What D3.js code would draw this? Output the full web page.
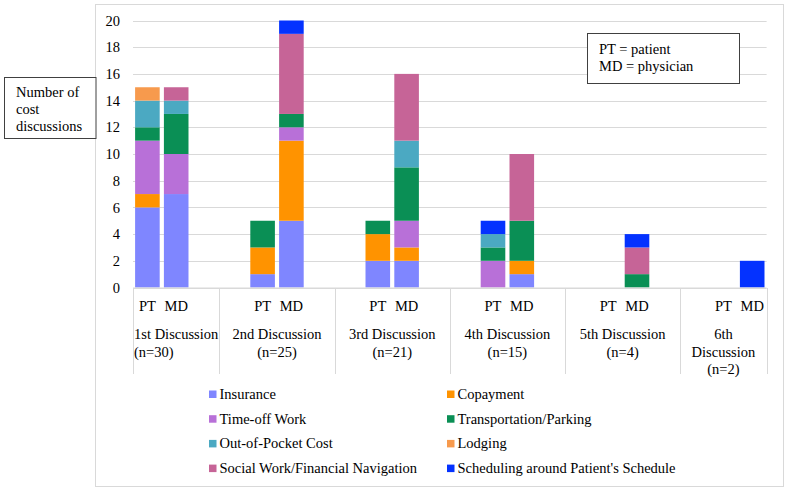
<!DOCTYPE html>
<html>
<head>
<meta charset="utf-8">
<script src="https://cdn.jsdelivr.net/npm/d3@7"></script>
<style>
  html, body { margin: 0; padding: 0; background: #fff; }
  svg { display: block; }
</style>
</head>
<body>
<svg id="chart" width="790" height="491"></svg>
<script>
// ---- data ----
const groupLabels = [
  ["1st Discussion", "(n=30)"],
  ["2nd Discussion", "(n=25)"],
  ["3rd Discussion", "(n=21)"],
  ["4th Discussion", "(n=15)"],
  ["5th Discussion", "(n=4)"],
  ["6th", "Discussion", "(n=2)"]
];
const roles = ["PT", "MD"];
const yTicks = [0, 2, 4, 6, 8, 10, 12, 14, 16, 18, 20];
const seriesNames = [
  "Insurance", "Copayment", "Time-off Work", "Transportation/Parking",
  "Out-of-Pocket Cost", "Lodging", "Social Work/Financial Navigation",
  "Scheduling around Patient's Schedule"
];
const seriesColors = ["#7f86ff", "#ff9300", "#b870d8", "#0a8f55", "#4ba9c2", "#f79a4d", "#c66497", "#0432ff"];
// values per bar: PT1, MD1, PT2, MD2, PT3, MD3, PT4, MD4, PT5, MD5, PT6, MD6
const insurance      = [6, 7, 1, 5, 2, 2, 0, 1, 0, 0, 0, 0];
const copayment      = [1, 0, 2, 6, 2, 1, 0, 1, 0, 0, 0, 0];
const timeOffWork    = [4, 3, 0, 1, 0, 2, 2, 0, 0, 0, 0, 0];
const transportation = [1, 3, 2, 1, 1, 4, 1, 3, 0, 1, 0, 0];
const outOfPocket    = [2, 1, 0, 0, 0, 2, 1, 0, 0, 0, 0, 0];
const lodging        = [1, 0, 0, 0, 0, 0, 0, 0, 0, 0, 0, 0];
const socialWork     = [0, 1, 0, 6, 0, 5, 0, 5, 0, 2, 0, 0];
const scheduling     = [0, 0, 0, 1, 0, 0, 1, 0, 0, 1, 0, 2];
const seriesValues = [insurance, copayment, timeOffWork, transportation, outOfPocket, lodging, socialWork, scheduling];

// ---- layout ----
const svg = d3.select("#chart");
const plotLeft = 133, plotRight = 766.6, plotTop = 20.5, plotBottom = 287.5;
const nSlots = 22;
const FONT = "14.5px";
const FAMILY = '"Liberation Serif", "Times New Roman", Times, serif';

function txt(sel) {
  return sel.style("font-family", FAMILY).style("font-size", FONT).attr("fill", "#000");
}

// frame
svg.append("rect").attr("x", 95.5).attr("y", 4.5).attr("width", 688).attr("height", 482)
  .attr("fill", "#fff").attr("stroke", "#d9d9d9");

const y = d3.scaleLinear().domain([0, 20]).range([plotBottom, plotTop]);
const x = d3.scaleBand().domain(d3.range(nSlots)).range([plotLeft, plotRight])
  .paddingInner(0.146).paddingOuter(0.073);
const step = x.step();

// grid
svg.append("g").selectAll("line").data(yTicks).join("line")
  .attr("x1", plotLeft).attr("x2", plotRight)
  .attr("y1", d => Math.round(y(d)) + 0.5).attr("y2", d => Math.round(y(d)) + 0.5)
  .attr("stroke", "#d9d9d9").attr("stroke-width", 1);

// y axis labels
const yAxis = d3.axisLeft(y).tickValues(yTicks).tickSize(0).tickPadding(0);
const yg = svg.append("g").attr("transform", `translate(120,0)`).call(yAxis);
yg.select(".domain").remove();
yg.selectAll("text").call(txt);

// bars
const rows = d3.range(12).map(i => {
  const g = Math.floor(i / 2), r = i % 2;
  const o = { slot: 4 * g + r };
  seriesNames.forEach((s, k) => o[s] = seriesValues[k][i]);
  return o;
});
const stacked = d3.stack().keys(seriesNames)(rows);
svg.append("g").selectAll("g").data(stacked).join("g")
  .attr("fill", (d, i) => seriesColors[i])
  .selectAll("rect").data(d => d.filter(p => p[1] > p[0])).join("rect")
  .attr("x", d => x(d.data.slot)).attr("width", x.bandwidth())
  .attr("y", d => y(d[1])).attr("height", d => y(d[0]) - y(d[1]));

// category axis
const catBottom = 374;
const sepX = [plotLeft].concat(d3.range(5).map(g => plotLeft + step * (4 * g + 3))).concat([plotRight]);
svg.append("line").attr("x1", plotLeft).attr("x2", plotRight).attr("y1", 288).attr("y2", 288).attr("stroke", "#d9d9d9");
svg.append("g").selectAll("line").data(sepX).join("line")
  .attr("x1", d => Math.round(d) + 0.5).attr("x2", d => Math.round(d) + 0.5)
  .attr("y1", 288).attr("y2", catBottom).attr("stroke", "#d9d9d9");

// PT / MD labels
const roleLabels = d3.range(12).map(i => ({ slot: 4 * Math.floor(i / 2) + (i % 2), text: roles[i % 2] }));
svg.append("g").selectAll("text").data(roleLabels).join("text")
  .attr("x", d => x(d.slot) + x.bandwidth() / 2).attr("y", 311)
  .attr("text-anchor", "middle").call(txt).text(d => d.text);

// group labels
groupLabels.forEach((lines, g) => {
  const s0 = Math.max(0, 4 * g - 1), s1 = Math.min(nSlots, 4 * g + 3);
  const cx = plotLeft + step * (s0 + s1) / 2;
  lines.forEach((t, li) => {
    const leftAligned = (g === 0 && li === 1);
    svg.append("text")
      .attr("x", leftAligned ? plotLeft + 1 : cx)
      .attr("y", 339 + li * 17.5)
      .attr("text-anchor", leftAligned ? "start" : "middle")
      .call(txt).text(t);
  });
});

// legend
const legend = svg.append("g");
seriesNames.forEach((s, i) => {
  const col = i % 2, row = Math.floor(i / 2);
  const lx = col === 0 ? 209 : 447, ly = 394 + row * 24.7;
  legend.append("rect").attr("x", lx).attr("y", ly - 3.5).attr("width", 7.5).attr("height", 7.5).attr("fill", seriesColors[i]);
  legend.append("text").attr("x", lx + 10.5).attr("y", ly + 5).call(txt).text(s);
});

// y-axis title box
svg.append("rect").attr("x", 4.5).attr("y", 77.5).attr("width", 91.5).attr("height", 61)
  .attr("fill", "#fff").attr("stroke", "#404040");
["Number of", "cost", "discussions"].forEach((t, i) => {
  svg.append("text").attr("x", 16).attr("y", 96.5 + i * 17).call(txt).text(t);
});

// PT/MD note box
svg.append("rect").attr("x", 587.5).attr("y", 33.5).attr("width", 152).attr("height", 50)
  .attr("fill", "#fff").attr("stroke", "#404040");
["PT = patient", "MD = physician"].forEach((t, i) => {
  svg.append("text").attr("x", 599).attr("y", 53.5 + i * 17).call(txt).text(t);
});
</script>
</body>
</html>
